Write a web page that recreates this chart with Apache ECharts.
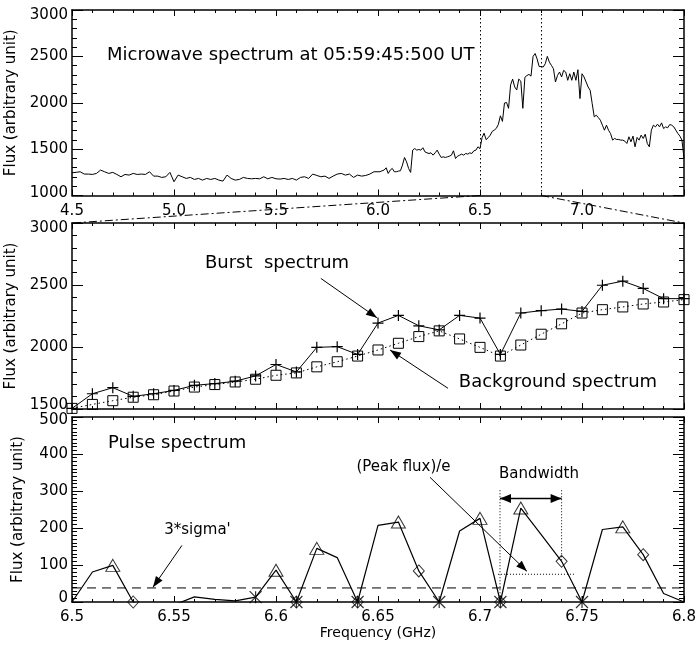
<!DOCTYPE html>
<html><head><meta charset="utf-8">
<script src="https://cdn.jsdelivr.net/npm/echarts@6/dist/echarts.min.js"></script>
<style>html,body{margin:0;padding:0;background:#fff}#c{width:696px;height:646px}</style>
</head><body><div id="c"></div>
<script>
// ---------- DATA ----------
// Top panel: microwave spectrum (GHz, flux)
const specLowStart = 4.50, specLowStep = 0.02;   // 4.50 .. 6.00
const specLow = [1245,1250,1256,1231,1231,1227,1238,1274,1256,1238,
  1249,1227,1202,1227,1220,1238,1227,1231,1227,1256,
  1209,1209,1195,1202,1249,1148,1220,1202,1184,1195,
  1173,1184,1166,1184,1173,1184,1166,1155,1220,1184,
  1166,1173,1195,1184,1180,1184,1180,1202,1180,1195,
  1180,1177,1184,1173,1184,1166,1195,1202,1184,1231,
  1216,1202,1209,1184,1209,1231,1238,1220,1231,1195,
  1220,1209,1216,1231,1256,1256];
const specMidStart = 6.01, specStep = 0.01;       // 6.01 .. 6.49
const specMid = [1256,1267,1274,1299,1238,1274,1292,1256,1256,1263,
  1267,1328,1410,1363,1292,1249,1489,1507,1489,1496,
  1489,1515,1471,1460,1453,1460,1435,1460,1489,1446,
  1410,1417,1410,1417,1424,1435,1482,1399,1424,1435,
  1446,1435,1453,1446,1460,1453,1482,1489,1525];
const specHighStart = 6.81;                       // 6.81 .. 7.50
const specHigh = [2385,2421,2500,2438,2403,2367,2224,2295,2331,2278,
  2349,2331,2242,2313,2242,2331,2242,2356,2045,2313,
  2278,2224,2170,2134,1991,1848,1866,1840,1812,1758,
  1704,1758,1704,1668,1597,1615,1604,1604,1597,1597,
  1586,1561,1633,1579,1640,1525,1626,1597,1651,1615,
  1661,1561,1525,1704,1758,1740,1769,1740,1783,1722,
  1740,1730,1765,1758,1740,1704,1668,1640,1597,1400];
// Middle/bottom panels: 6.50 .. 6.80 GHz, step 0.01
const zoomStart = 6.50;
const burst = [1505,1623,1672,1602,1623,1650,1691,1705,1724,1767,
  1859,1799,1997,2003,1940,2193,2255,2171,2138,2255,
  2233,1940,2274,2293,2306,2287,2498,2531,2472,2390,2390];
const background = [1505,1537,1567,1595,1615,1645,1677,1697,1718,1740,
  1772,1791,1840,1881,1927,1976,2030,2084,2130,2065,
  1997,1927,2016,2103,2187,2274,2301,2323,2347,2363,2382];
const pulse = [0,81,99,0,-40,-8,14,7,3,13,
  86,0,145,120,0,207,216,84,0,192,
  226,0,254,182,110,0,196,203,128,23,0];
const peakFreqs = [6.52,6.60,6.62,6.66,6.70,6.72,6.77];
const efoldFreqs = [6.53,6.61,6.64,6.67,6.71,6.74,6.78];
const minFreqs = [6.59,6.61,6.64,6.68,6.71,6.75];
const sigmaLevel = 38;
const zoomRange = [6.5, 6.8];

// ---------- BUILD ----------
const r2 = v => Math.round(v*100)/100;
const specData = [];
specLow.forEach((v,i)=>specData.push([r2(specLowStart+i*specLowStep), v]));
specMid.forEach((v,i)=>specData.push([r2(specMidStart+i*specStep), v]));
burst.forEach((v,i)=>specData.push([r2(zoomStart+i*specStep), v]));
specHigh.forEach((v,i)=>specData.push([r2(specHighStart+i*specStep), v]));
const zf = i => r2(zoomStart+i*specStep);
const burstData = burst.map((v,i)=>[zf(i),v]);
const bgData = background.map((v,i)=>[zf(i),v]);
const pulseData = pulse.map((v,i)=>[zf(i),v]);
const pick = fs => fs.map(f=>[f, pulse[Math.round((f-zoomStart)/specStep)]]);

const FONT = 'DejaVu Sans';
const AX = {color:'#000', width:1.5};
function xAx(grid, pos, min, max, interval, labels, fmt){
  return {type:'value', gridIndex:grid, position:pos, min, max, interval,
    axisLine:{show:true, onZero:false, lineStyle:AX},
    axisTick:{show:true, inside:true, length:6, lineStyle:{color:'#000',width:1}},
    minorTick:{show:true, splitNumber:5, length:3, lineStyle:{color:'#000',width:1}},
    splitLine:{show:false}, minorSplitLine:{show:false},
    axisLabel:{show:labels, color:'#000', fontFamily:FONT, fontSize:15, margin:8, formatter:fmt}};
}
// shift end labels like the original (max label lower, min label higher)
function yFmt(min, max){
  return v => {
    if (Math.abs(v-max)<1e-6) return '{hi|'+v+'}';
    if (Math.abs(v-min)<1e-6) return '{lo|'+v+'}';
    return String(v);
  };
}
function yAx(grid, pos, min, max, interval, minorSplit, labels, name, shMax, shMin){
  const o = {type:'value', gridIndex:grid, position:pos, min, max, interval,
    axisLine:{show:true, onZero:false, lineStyle:AX},
    axisTick:{show:true, inside:true, length:11, lineStyle:{color:'#000',width:1}},
    minorTick:{show:true, splitNumber:minorSplit, length:5, lineStyle:{color:'#000',width:1}},
    splitLine:{show:false}, minorSplitLine:{show:false},
    axisLabel:{show:labels, color:'#000', fontFamily:FONT, fontSize:15, margin:4,
      formatter: yFmt(min,max),
      rich:{
        hi:{fontFamily:FONT, fontSize:15, color:'#000', padding:[shMax||0,0,0,0]},
        lo:{fontFamily:FONT, fontSize:15, color:'#000', padding:[0,0,shMin||0,0]}
      }}};
  if (name){ o.name = name; o.nameLocation='middle'; o.nameGap=46;
    o.nameTextStyle={color:'#000', fontFamily:FONT, fontSize:15}; }
  return o;
}
const fmt1 = v => Math.abs(v-7.5)<1e-6 ? '' : v.toFixed(1);
const fmt2 = v => String(+v.toFixed(2));
const yName = 'Flux (arbitrary unit)';

const chart = echarts.init(document.getElementById('c'), null, {renderer:'canvas'});
const gridBase = {left:72, right:12, containLabel:false, outerBoundsMode:'none'};
const option = {
  backgroundColor:'#fff', animation:false,
  grid:[
    Object.assign({top:10, height:185.5}, gridBase),
    Object.assign({top:223, height:186}, gridBase),
    Object.assign({top:417, height:185}, gridBase)
  ],
  xAxis:[
    xAx(0,'bottom',4.5,7.5,0.5,true,fmt1),
    xAx(0,'top',4.5,7.5,0.5,false),
    xAx(1,'bottom',zoomRange[0],zoomRange[1],0.05,false),
    xAx(1,'top',zoomRange[0],zoomRange[1],0.05,false),
    Object.assign(xAx(2,'bottom',zoomRange[0],zoomRange[1],0.05,true,fmt2),
      {name:'Frequency (GHz)', nameLocation:'middle', nameGap:24,
       nameTextStyle:{color:'#000', fontFamily:FONT, fontSize:14}}),
    xAx(2,'top',zoomRange[0],zoomRange[1],0.05,false)
  ],
  yAxis:[
    yAx(0,'left',1000,3000,500,5,true,yName,10,5),
    yAx(0,'right',1000,3000,500,5,false),
    yAx(1,'left',1500,3000,500,5,true,yName,10,7),
    yAx(1,'right',1500,3000,500,5,false),
    yAx(2,'left',0,500,100,10,true,yName,6,8),
    yAx(2,'right',0,500,100,10,false)
  ],
  series:[
    {type:'line', xAxisIndex:0, yAxisIndex:0, data:specData, symbol:'none',
     lineStyle:{color:'#000', width:1},
     markLine:{silent:true, symbol:'none', label:{show:false},
       lineStyle:{color:'#000', width:1, type:[1.5,2.5]},
       data:[{xAxis:zoomRange[0]},{xAxis:zoomRange[1]}]}},
    {type:'line', xAxisIndex:2, yAxisIndex:2, data:bgData, symbol:'rect', symbolSize:10,
     lineStyle:{color:'#000', width:1, type:[1.5,3]},
     itemStyle:{color:'rgba(0,0,0,0)', borderColor:'#000', borderWidth:1}},
    {type:'line', xAxisIndex:2, yAxisIndex:2, data:burstData,
     symbol:'path://M5 0L5 10M0 5L10 5', symbolSize:11,
     lineStyle:{color:'#000', width:1},
     itemStyle:{color:'rgba(0,0,0,0)', borderColor:'#000', borderWidth:1.2}},
    {type:'line', xAxisIndex:4, yAxisIndex:4, data:[[zoomRange[0],sigmaLevel],[zoomRange[1],sigmaLevel]],
     symbol:'none', lineStyle:{color:'#000', width:1, type:[9,6]}},
    {type:'line', xAxisIndex:4, yAxisIndex:4, data:pulseData, symbol:'none', clip:true,
     lineStyle:{color:'#000', width:1.2}},
    {type:'scatter', xAxisIndex:4, yAxisIndex:4, data:pick(peakFreqs), clip:false,
     symbol:'triangle', symbolSize:[14,12],
     itemStyle:{color:'rgba(0,0,0,0)', borderColor:'#000', borderWidth:1}},
    {type:'scatter', xAxisIndex:4, yAxisIndex:4, data:pick(efoldFreqs), clip:false,
     symbol:'diamond', symbolSize:[11,12],
     itemStyle:{color:'rgba(0,0,0,0)', borderColor:'#000', borderWidth:1}},
    {type:'scatter', xAxisIndex:4, yAxisIndex:4, data:pick(minFreqs), clip:false,
     symbol:'path://M0 0L10 10M10 0L0 10M5 0L5 10', symbolSize:12,
     itemStyle:{color:'rgba(0,0,0,0)', borderColor:'#000', borderWidth:1.2}}
  ]
};
chart.setOption(option);

// ---------- ANNOTATIONS (data coords -> pixels) ----------
const P = (g, f, v) => chart.convertToPixel({xAxisIndex:g*2, yAxisIndex:g*2}, [f, v]);
const G = [];
function text(p, s, size, align){
  G.push({type:'text', x:p[0], y:p[1], z:100,
    style:{text:s, fontFamily:FONT, fontSize:size, fill:'#000', align:align||'center', verticalAlign:'middle'}});
}
function line(a, b, dash, w){
  G.push({type:'line', z:100, shape:{x1:a[0],y1:a[1],x2:b[0],y2:b[1]},
    style:{stroke:'#000', lineWidth:w||1, lineDash:dash||null}});
}
function head(from, tip, len, hw){
  const dx = tip[0]-from[0], dy = tip[1]-from[1], L = Math.hypot(dx,dy);
  const ux = dx/L, uy = dy/L;
  const bx = tip[0]-ux*len, by = tip[1]-uy*len;
  G.push({type:'polygon', z:100, shape:{points:[[tip[0],tip[1]],[bx-uy*hw,by+ux*hw],[bx+uy*hw,by-ux*hw]]},
    style:{fill:'#000'}});
}
function arrow(a, b){ line(a,b); head(a,b,11,4); }

// top title
text(P(0,4.6716,2510), 'Microwave spectrum at 05:59:45:500 UT', 18, 'left');
// zoom connectors (dash-dot)
line(P(0,zoomRange[0],1000), P(1,zoomRange[0],3000), [8,3,2,3]);
line(P(0,zoomRange[1],1000), P(1,zoomRange[1],3000), [8,3,2,3]);
// middle panel
text(P(1,6.6005,2675), 'Burst  spectrum', 18);
arrow(P(1,6.622,2553), P(1,6.6495,2236));
text(P(1,6.7382,1715), 'Background spectrum', 18);
arrow(P(1,6.6843,1667), P(1,6.6559,1976));
// bottom panel
text(P(2,6.5176,429), 'Pulse spectrum', 18, 'left');
text(P(2,6.5615,194), "3*sigma'", 15);
arrow(P(2,6.5539,153), P(2,6.5397,40));
text(P(2,6.6625,365), '(Peak flux)/e', 15);
arrow(P(2,6.6755,337), P(2,6.723,83));
text(P(2,6.7289,345), 'Bandwidth', 15);
const bwA = P(2,6.7098,280), bwB = P(2,6.7400,280);
line(bwA, bwB, null, 1.5); head(bwB, bwA, 11, 4.5); head(bwA, bwB, 11, 4.5);
line(P(2,6.7098,302), P(2,6.7098,0), [1,2]);
line(P(2,6.7400,302), P(2,6.7400,110), [1,2]);
line(P(2,6.7088,75), P(2,6.7466,75), [1,2]);
chart.setOption({graphic:G});
</script>
</body></html>
